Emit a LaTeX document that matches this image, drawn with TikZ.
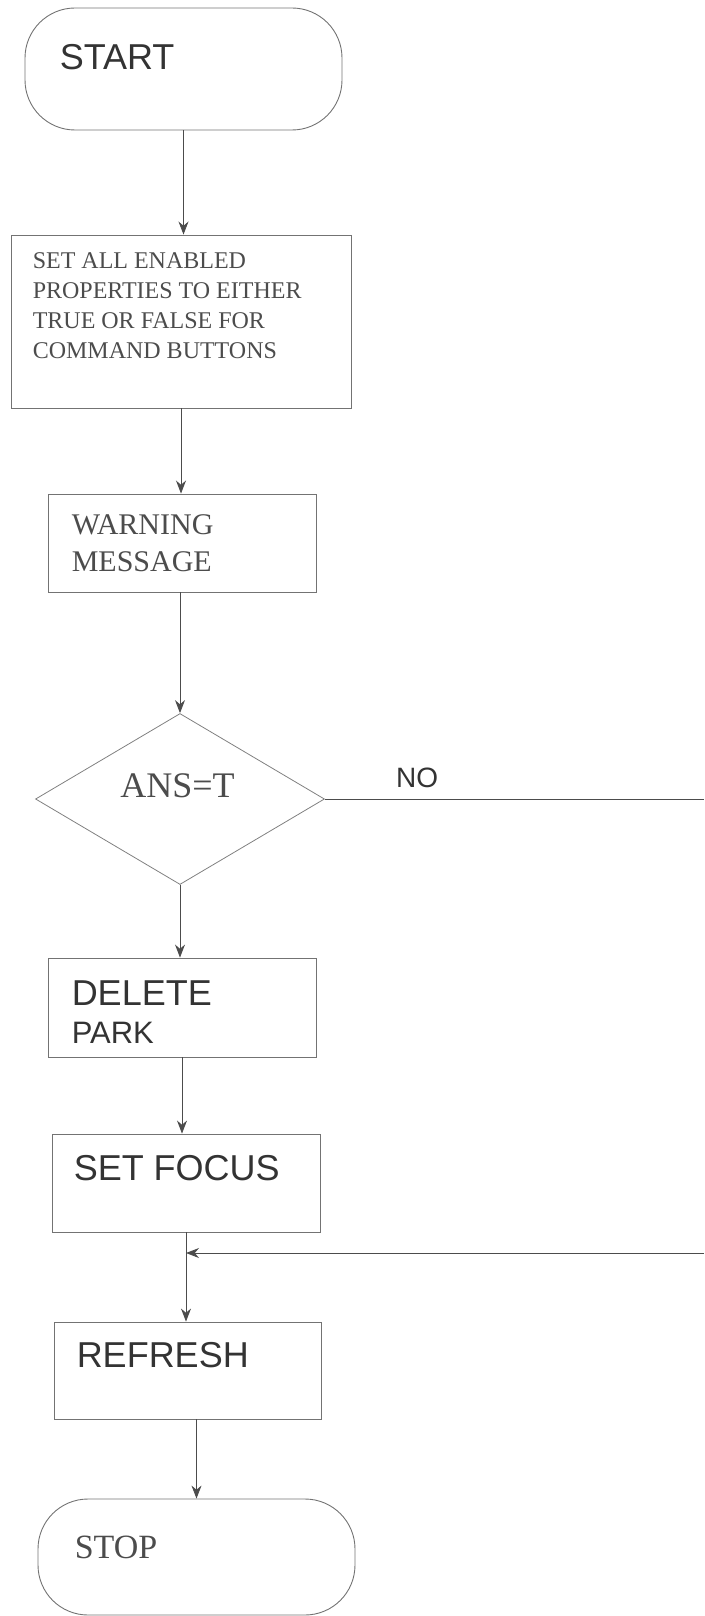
\documentclass[tikz,border=0pt]{standalone}
\usepackage{fontspec}
\setmainfont{Liberation Serif}
\setsansfont{Liberation Sans}
\usetikzlibrary{calc, shapes.geometric, arrows.meta}

\tikzset{
  flow/.style={draw=black!70, line width=0.9pt},
  flowarrow/.style={flow, -{Stealth[length=13pt, width=10pt]}},
  procbox/.style={rectangle, draw=black!55, line width=0.9pt, inner sep=0pt},
  termbox/.style={procbox, rounded corners=50pt},
  decbox/.style={diamond, draw=black!50, line width=0.8pt, inner sep=0pt,
    minimum width=289pt, minimum height=171pt},
  sanstxt/.style={font=\sffamily\fontsize{36}{43}\selectfont, text=black!80,
    inner sep=0pt, anchor=base west},
  seriftxt/.style={font=\rmfamily\fontsize{24}{30}\selectfont, text=black!70,
    inner sep=0pt, anchor=base west},
}

\begin{document}
\begin{tikzpicture}[x=1pt, y=-1pt]
  \useasboundingbox (0,0) rectangle (704,1616);

  % Draw the boxes of the flow chart
  \node[termbox, minimum width=317pt, minimum height=122pt] (start) at (183.5,69) {};
  \node[procbox, minimum width=340pt, minimum height=173pt] (enable) at (181,321.5) {};
  \node[procbox, minimum width=268pt, minimum height=98pt] (warn) at (182,543) {};
  \node[decbox] (decide) at (180,799) {};
  \node[procbox, minimum width=268pt, minimum height=99pt] (delete) at (182,1007.5) {};
  \node[procbox, minimum width=268pt, minimum height=98pt] (focus) at (186,1183) {};
  \node[procbox, minimum width=267pt, minimum height=97pt] (refresh) at (187.5,1370.5) {};
  \node[termbox, minimum width=317pt, minimum height=116pt] (stop) at (196.5,1557) {};

  % Label the boxes. Adjust the offsets as needed
  \node[sanstxt] (starttxt) at ($(start.north west)+(35,62)$) {START};
  \node[seriftxt, anchor=north west, align=left] (enabletxt) at ($(enable.north west)+(22,18)$)
    {SET ALL ENABLED\\PROPERTIES TO EITHER\\TRUE OR FALSE FOR\\COMMAND BUTTONS};
  \node[seriftxt, font=\rmfamily\fontsize{30}{37}\selectfont, anchor=north west, align=left]
    (warntxt) at ($(warn.north west)+(24,21)$) {WARNING\\MESSAGE};
  \node[seriftxt, font=\rmfamily\fontsize{36}{43}\selectfont] (decidetxt) at ($(decide.west)+(85,-2)$) {ANS=T};
  \node[sanstxt, font=\sffamily\fontsize{28}{34}\selectfont] (notxt) at ($(decide.east)+(71,-12)$) {NO};
  \node[sanstxt] (deletetxt) at ($(delete.north west)+(24,48)$) {DELETE};
  \node[sanstxt, font=\sffamily\fontsize{31}{37}\selectfont] (parktxt) at ($(delete.north west)+(24,86)$) {PARK};
  \node[sanstxt] (focustxt) at ($(focus.north west)+(22,47)$) {SET FOCUS};
  \node[sanstxt] (refreshtxt) at ($(refresh.north west)+(23,46)$) {REFRESH};
  \node[seriftxt, font=\rmfamily\fontsize{34}{41}\selectfont] (stoptxt) at ($(stop.north west)+(37,60)$) {STOP};

  % Draw the arrows between the boxes
  \draw[flowarrow] (start.south) -- (start.south |- enable.north);
  \draw[flowarrow] (enable.south) -- (enable.south |- warn.north);
  \draw[flowarrow] (warn.south -| decide.north) -- (decide.north);
  \draw[flowarrow] (decide.south) -- (decide.south |- delete.north);
  \draw[flowarrow] (delete.south) -- (delete.south |- focus.north);
  \draw[flowarrow] (focus.south) -- (focus.south |- refresh.north);
  \draw[flowarrow] (stop.north |- refresh.south) -- (stop.north);

  % The NO branch runs off to the right and comes back above REFRESH
  \coordinate (noout) at (704,799);
  \coordinate (noback) at (704,1253);
  \draw[flow] (decide.east) -- (noout);
  \draw[flowarrow] (noback) -- (noback -| focus.south);

\end{tikzpicture}
\end{document}
